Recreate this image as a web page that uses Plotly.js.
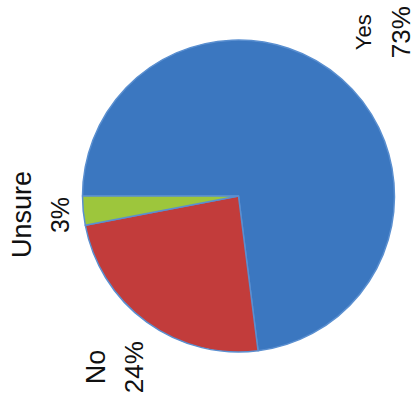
<!DOCTYPE html>
<html>
<head>
<meta charset="utf-8">
<script src="https://cdn.plot.ly/plotly-3.0.1.min.js"></script>
<style>html,body{margin:0;padding:0;background:#fff;}#chart{width:416px;height:405px;}</style>
</head>
<body>
<div id="chart"></div>
<script>
// Data
var categories = ["Yes", "No", "Unsure"];
var values = [73, 24, 3];
var percentLabels = ["73%", "24%", "3%"];

// Styling
var colors = ["#3b77c0", "#c23c3b", "#9dc63c"];
var nameSizes = [22, 27, 27];
var pctSizes = [26, 26, 25];
var labelDist = [218, 211, 199]; // px from pie centre
var lineGap = 19; // half distance between the two rotated lines
var W = 416, H = 405;
var cx = 238.5, cy = 196, R = 156;
var startDeg = 270;
var fontFamily = "Liberation Sans, Arial, sans-serif";

var total = values.reduce(function(a, b){ return a + b; }, 0);
var annotations = [];
var cum = 0;
for (var i = 0; i < values.length; i++) {
  var mid = startDeg + (cum + values[i] / 2) / total * 360;
  cum += values[i];
  var a = mid * Math.PI / 180;
  var px = cx + labelDist[i] * Math.sin(a);
  var py = cy - labelDist[i] * Math.cos(a);
  annotations.push({
    xref: "paper", yref: "paper",
    x: (px - lineGap) / W, y: 1 - py / H,
    xanchor: "center", yanchor: "middle",
    text: categories[i], textangle: -90, showarrow: false,
    font: {family: fontFamily, size: nameSizes[i], color: "#111"}
  });
  annotations.push({
    xref: "paper", yref: "paper",
    x: (px + lineGap) / W, y: 1 - py / H,
    xanchor: "center", yanchor: "middle",
    text: percentLabels[i], textangle: -90, showarrow: false,
    font: {family: fontFamily, size: pctSizes[i], color: "#111"}
  });
}

var trace = {
  type: "pie",
  labels: categories,
  values: values,
  sort: false,
  direction: "clockwise",
  rotation: startDeg,
  textinfo: "none",
  hoverinfo: "label+percent",
  marker: {colors: colors, line: {color: "#5a8fd0", width: 1.5}},
  domain: {x: [(cx - R) / W, (cx + R) / W], y: [1 - (cy + R) / H, 1 - (cy - R) / H]}
};

var layout = {
  width: W, height: H,
  margin: {l: 0, r: 0, t: 0, b: 0},
  showlegend: false,
  paper_bgcolor: "#fff",
  annotations: annotations
};

Plotly.newPlot("chart", [trace], layout, {displayModeBar: false, staticPlot: true});
</script>
</body>
</html>
